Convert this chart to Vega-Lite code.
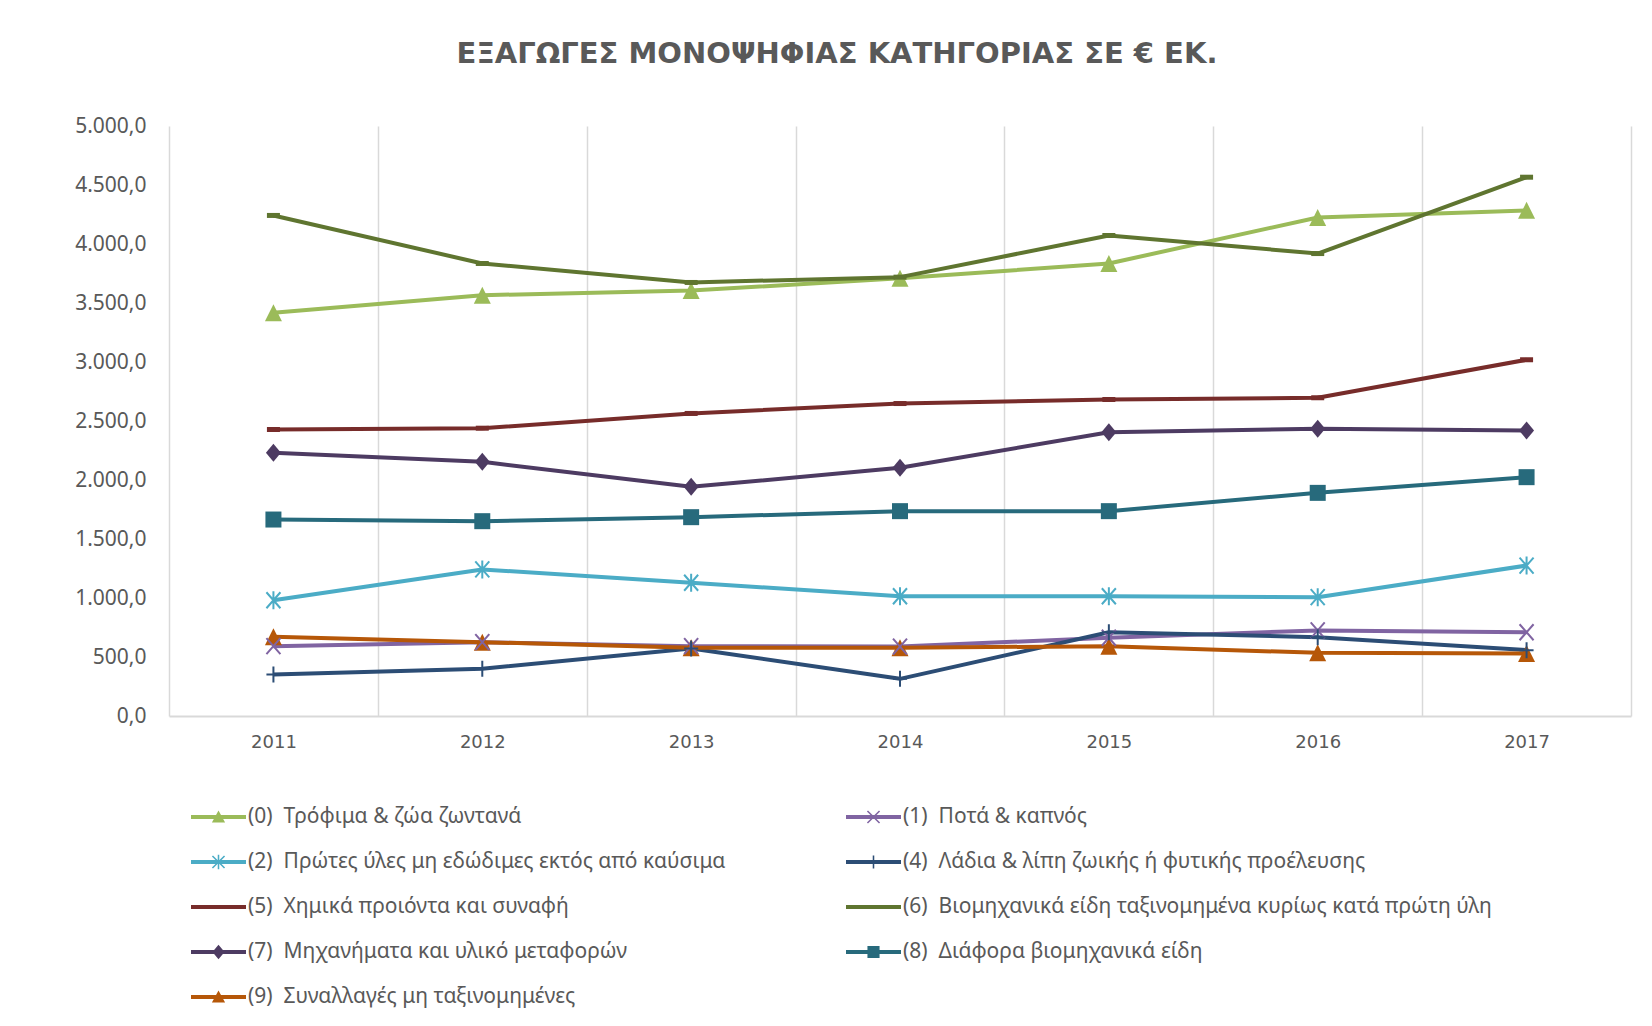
{
  "$schema": "https://vega.github.io/schema/vega-lite/v6.json",
  "width": 1462,
  "height": 590,
  "autosize": {"type": "none"},
  "padding": {"left": 169, "top": 126, "right": 21, "bottom": 310},
  "background": "white",
  "config": {
    "locale": {"number": {"decimal": ",", "thousands": ".", "grouping": [3], "currency": ["", " €"]}},
    "font": "Noto Sans",
    "view": {"stroke": null}
  },
  "title": {
    "text": "ΕΞΑΓΩΓΕΣ ΜΟΝΟΨΗΦΙΑΣ ΚΑΤΗΓΟΡΙΑΣ ΣΕ € ΕΚ.",
    "fontSize": 29,
    "fontWeight": "bold",
    "color": "#595959",
    "font": "DejaVu Sans",
    "anchor": "middle",
    "frame": "group",
    "offset": 46,
    "dx": -63
  },
  "data": {
    "values": [
      {"year": "2011", "cat": "(0)\u00a0 Τρόφιμα & ζώα ζωντανά", "v": 3417},
      {"year": "2012", "cat": "(0)\u00a0 Τρόφιμα & ζώα ζωντανά", "v": 3566},
      {"year": "2013", "cat": "(0)\u00a0 Τρόφιμα & ζώα ζωντανά", "v": 3605},
      {"year": "2014", "cat": "(0)\u00a0 Τρόφιμα & ζώα ζωντανά", "v": 3710},
      {"year": "2015", "cat": "(0)\u00a0 Τρόφιμα & ζώα ζωντανά", "v": 3835},
      {"year": "2016", "cat": "(0)\u00a0 Τρόφιμα & ζώα ζωντανά", "v": 4225},
      {"year": "2017", "cat": "(0)\u00a0 Τρόφιμα & ζώα ζωντανά", "v": 4285},
      {"year": "2011", "cat": "(1)\u00a0 Ποτά & καπνός", "v": 592},
      {"year": "2012", "cat": "(1)\u00a0 Ποτά & καπνός", "v": 626},
      {"year": "2013", "cat": "(1)\u00a0 Ποτά & καπνός", "v": 592},
      {"year": "2014", "cat": "(1)\u00a0 Ποτά & καπνός", "v": 588},
      {"year": "2015", "cat": "(1)\u00a0 Ποτά & καπνός", "v": 663},
      {"year": "2016", "cat": "(1)\u00a0 Ποτά & καπνός", "v": 725},
      {"year": "2017", "cat": "(1)\u00a0 Ποτά & καπνός", "v": 710},
      {"year": "2011", "cat": "(2)\u00a0 Πρώτες ύλες μη εδώδιμες εκτός από καύσιμα", "v": 981},
      {"year": "2012", "cat": "(2)\u00a0 Πρώτες ύλες μη εδώδιμες εκτός από καύσιμα", "v": 1242},
      {"year": "2013", "cat": "(2)\u00a0 Πρώτες ύλες μη εδώδιμες εκτός από καύσιμα", "v": 1129},
      {"year": "2014", "cat": "(2)\u00a0 Πρώτες ύλες μη εδώδιμες εκτός από καύσιμα", "v": 1015},
      {"year": "2015", "cat": "(2)\u00a0 Πρώτες ύλες μη εδώδιμες εκτός από καύσιμα", "v": 1015},
      {"year": "2016", "cat": "(2)\u00a0 Πρώτες ύλες μη εδώδιμες εκτός από καύσιμα", "v": 1007},
      {"year": "2017", "cat": "(2)\u00a0 Πρώτες ύλες μη εδώδιμες εκτός από καύσιμα", "v": 1275},
      {"year": "2011", "cat": "(4)\u00a0 Λάδια & λίπη ζωικής ή φυτικής προέλευσης", "v": 352},
      {"year": "2012", "cat": "(4)\u00a0 Λάδια & λίπη ζωικής ή φυτικής προέλευσης", "v": 400},
      {"year": "2013", "cat": "(4)\u00a0 Λάδια & λίπη ζωικής ή φυτικής προέλευσης", "v": 572},
      {"year": "2014", "cat": "(4)\u00a0 Λάδια & λίπη ζωικής ή φυτικής προέλευσης", "v": 315},
      {"year": "2015", "cat": "(4)\u00a0 Λάδια & λίπη ζωικής ή φυτικής προέλευσης", "v": 710},
      {"year": "2016", "cat": "(4)\u00a0 Λάδια & λίπη ζωικής ή φυτικής προέλευσης", "v": 668},
      {"year": "2017", "cat": "(4)\u00a0 Λάδια & λίπη ζωικής ή φυτικής προέλευσης", "v": 558},
      {"year": "2011", "cat": "(5)\u00a0 Χημικά προιόντα και συναφή", "v": 2428},
      {"year": "2012", "cat": "(5)\u00a0 Χημικά προιόντα και συναφή", "v": 2439},
      {"year": "2013", "cat": "(5)\u00a0 Χημικά προιόντα και συναφή", "v": 2564},
      {"year": "2014", "cat": "(5)\u00a0 Χημικά προιόντα και συναφή", "v": 2648},
      {"year": "2015", "cat": "(5)\u00a0 Χημικά προιόντα και συναφή", "v": 2682},
      {"year": "2016", "cat": "(5)\u00a0 Χημικά προιόντα και συναφή", "v": 2697},
      {"year": "2017", "cat": "(5)\u00a0 Χημικά προιόντα και συναφή", "v": 3019},
      {"year": "2011", "cat": "(6)\u00a0 Βιομηχανικά είδη ταξινομημένα κυρίως κατά πρώτη ύλη", "v": 4242},
      {"year": "2012", "cat": "(6)\u00a0 Βιομηχανικά είδη ταξινομημένα κυρίως κατά πρώτη ύλη", "v": 3835},
      {"year": "2013", "cat": "(6)\u00a0 Βιομηχανικά είδη ταξινομημένα κυρίως κατά πρώτη ύλη", "v": 3674},
      {"year": "2014", "cat": "(6)\u00a0 Βιομηχανικά είδη ταξινομημένα κυρίως κατά πρώτη ύλη", "v": 3719},
      {"year": "2015", "cat": "(6)\u00a0 Βιομηχανικά είδη ταξινομημένα κυρίως κατά πρώτη ύλη", "v": 4072},
      {"year": "2016", "cat": "(6)\u00a0 Βιομηχανικά είδη ταξινομημένα κυρίως κατά πρώτη ύλη", "v": 3919},
      {"year": "2017", "cat": "(6)\u00a0 Βιομηχανικά είδη ταξινομημένα κυρίως κατά πρώτη ύλη", "v": 4566},
      {"year": "2011", "cat": "(7)\u00a0 Μηχανήματα και υλικό μεταφορών", "v": 2230},
      {"year": "2012", "cat": "(7)\u00a0 Μηχανήματα και υλικό μεταφορών", "v": 2154},
      {"year": "2013", "cat": "(7)\u00a0 Μηχανήματα και υλικό μεταφορών", "v": 1942},
      {"year": "2014", "cat": "(7)\u00a0 Μηχανήματα και υλικό μεταφορών", "v": 2103},
      {"year": "2015", "cat": "(7)\u00a0 Μηχανήματα και υλικό μεταφορών", "v": 2405},
      {"year": "2016", "cat": "(7)\u00a0 Μηχανήματα και υλικό μεταφορών", "v": 2434},
      {"year": "2017", "cat": "(7)\u00a0 Μηχανήματα και υλικό μεταφορών", "v": 2419},
      {"year": "2011", "cat": "(8)\u00a0 Διάφορα βιομηχανικά είδη", "v": 1665},
      {"year": "2012", "cat": "(8)\u00a0 Διάφορα βιομηχανικά είδη", "v": 1651},
      {"year": "2013", "cat": "(8)\u00a0 Διάφορα βιομηχανικά είδη", "v": 1685},
      {"year": "2014", "cat": "(8)\u00a0 Διάφορα βιομηχανικά είδη", "v": 1736},
      {"year": "2015", "cat": "(8)\u00a0 Διάφορα βιομηχανικά είδη", "v": 1736},
      {"year": "2016", "cat": "(8)\u00a0 Διάφορα βιομηχανικά είδη", "v": 1891},
      {"year": "2017", "cat": "(8)\u00a0 Διάφορα βιομηχανικά είδη", "v": 2024},
      {"year": "2011", "cat": "(9)\u00a0 Συναλλαγές μη ταξινομημένες", "v": 671},
      {"year": "2012", "cat": "(9)\u00a0 Συναλλαγές μη ταξινομημένες", "v": 626},
      {"year": "2013", "cat": "(9)\u00a0 Συναλλαγές μη ταξινομημένες", "v": 578},
      {"year": "2014", "cat": "(9)\u00a0 Συναλλαγές μη ταξινομημένες", "v": 578},
      {"year": "2015", "cat": "(9)\u00a0 Συναλλαγές μη ταξινομημένες", "v": 592},
      {"year": "2016", "cat": "(9)\u00a0 Συναλλαγές μη ταξινομημένες", "v": 535},
      {"year": "2017", "cat": "(9)\u00a0 Συναλλαγές μη ταξινομημένες", "v": 530}
    ]
  },
  "encoding": {
    "x": {
      "field": "year",
      "type": "ordinal",
      "scale": {"type": "band", "paddingInner": 0, "paddingOuter": 0},
      "bandPosition": 0.5,
      "axis": {
        "title": null,
        "tickBand": "extent",
        "grid": true,
        "gridColor": "#d9d9d9",
        "gridWidth": 1.5,
        "domainColor": "#d9d9d9",
        "domainWidth": 2,
        "ticks": false,
        "tickSize": 0,
        "labelAngle": 0,
        "labelFontSize": 18,
        "labelColor": "#595959",
        "labelPadding": 17,
        "labelFont": "DejaVu Sans"
      }
    },
    "y": {
      "field": "v",
      "type": "quantitative",
      "scale": {"domain": [0, 5000], "nice": false},
      "axis": {
        "title": null,
        "values": [0, 500, 1000, 1500, 2000, 2500, 3000, 3500, 4000, 4500, 5000],
        "format": ",.1f",
        "grid": false,
        "domain": false,
        "ticks": false,
        "tickSize": 0,
        "labelFontSize": 21,
        "labelColor": "#595959",
        "labelPadding": 23,
        "labelFont": "Noto Sans"
      }
    },
    "color": {
      "field": "cat",
      "type": "nominal",
      "scale": {
        "domain": [
          "(0)\u00a0 Τρόφιμα & ζώα ζωντανά",
          "(1)\u00a0 Ποτά & καπνός",
          "(2)\u00a0 Πρώτες ύλες μη εδώδιμες εκτός από καύσιμα",
          "(4)\u00a0 Λάδια & λίπη ζωικής ή φυτικής προέλευσης",
          "(5)\u00a0 Χημικά προιόντα και συναφή",
          "(6)\u00a0 Βιομηχανικά είδη ταξινομημένα κυρίως κατά πρώτη ύλη",
          "(7)\u00a0 Μηχανήματα και υλικό μεταφορών",
          "(8)\u00a0 Διάφορα βιομηχανικά είδη",
          "(9)\u00a0 Συναλλαγές μη ταξινομημένες"
        ],
        "range": ["#9BBB59", "#8064A2", "#4BACC6", "#2C4D75", "#772C2A", "#5F7530", "#4D3B62", "#276A7C", "#B65708"]
      },
      "legend": null
    }
  },
  "layer": [
    {
      "mark": {"type": "line", "strokeWidth": 4, "strokeJoin": "round"}
    },
    {
      "transform": [{"filter": {"field": "cat", "oneOf": [
        "(0)\u00a0 Τρόφιμα & ζώα ζωντανά",
        "(5)\u00a0 Χημικά προιόντα και συναφή",
        "(6)\u00a0 Βιομηχανικά είδη ταξινομημένα κυρίως κατά πρώτη ύλη",
        "(7)\u00a0 Μηχανήματα και υλικό μεταφορών",
        "(8)\u00a0 Διάφορα βιομηχανικά είδη",
        "(9)\u00a0 Συναλλαγές μη ταξινομημένες"
      ]}}],
      "mark": {"type": "point", "filled": true, "opacity": 1, "size": 100, "strokeWidth": 0},
      "encoding": {
        "shape": {
          "field": "cat",
          "type": "nominal",
          "scale": {
            "domain": [
              "(0)\u00a0 Τρόφιμα & ζώα ζωντανά",
              "(5)\u00a0 Χημικά προιόντα και συναφή",
              "(6)\u00a0 Βιομηχανικά είδη ταξινομημένα κυρίως κατά πρώτη ύλη",
              "(7)\u00a0 Μηχανήματα και υλικό μεταφορών",
              "(8)\u00a0 Διάφορα βιομηχανικά είδη",
              "(9)\u00a0 Συναλλαγές μη ταξινομημένες"
            ],
            "range": [
              "M0,-1.7L1.7,1.7L-1.7,1.7Z",
              "M-1.3,-0.5L1.3,-0.5L1.3,0.5L-1.3,0.5Z",
              "M-1.3,-0.5L1.3,-0.5L1.3,0.5L-1.3,0.5Z",
              "M0,-1.8L1.5,0L0,1.8L-1.5,0Z",
              "M-1.6,-1.6L1.6,-1.6L1.6,1.6L-1.6,1.6Z",
              "M0,-1.7L1.7,1.7L-1.7,1.7Z"
            ]
          },
          "legend": null
        }
      }
    },
    {
      "transform": [{"filter": {"field": "cat", "oneOf": [
        "(1)\u00a0 Ποτά & καπνός",
        "(2)\u00a0 Πρώτες ύλες μη εδώδιμες εκτός από καύσιμα",
        "(4)\u00a0 Λάδια & λίπη ζωικής ή φυτικής προέλευσης"
      ]}}],
      "mark": {"type": "point", "filled": false, "opacity": 1, "size": 100, "strokeWidth": 2},
      "encoding": {
        "shape": {
          "field": "cat",
          "type": "nominal",
          "scale": {
            "domain": [
              "(1)\u00a0 Ποτά & καπνός",
              "(2)\u00a0 Πρώτες ύλες μη εδώδιμες εκτός από καύσιμα",
              "(4)\u00a0 Λάδια & λίπη ζωικής ή φυτικής προέλευσης"
            ],
            "range": [
              "M-1.4,-1.6L1.4,1.6M-1.4,1.6L1.4,-1.6",
              "M-1.4,-1.6L1.4,1.6M-1.4,1.6L1.4,-1.6M0,-1.8L0,1.8",
              "M0,-1.6L0,1.6M-1.4,0L1.4,0"
            ]
          },
          "legend": null
        }
      }
    },
    {
      "transform": [{"filter": "false"}],
      "mark": {"type": "point", "filled": true, "opacity": 1, "strokeWidth": 0},
      "encoding": {
        "color": {
          "field": "cat",
          "type": "nominal",
          "scale": {
            "domain": [
              "(0)\u00a0 Τρόφιμα & ζώα ζωντανά",
              "(1)\u00a0 Ποτά & καπνός",
              "(2)\u00a0 Πρώτες ύλες μη εδώδιμες εκτός από καύσιμα",
              "(4)\u00a0 Λάδια & λίπη ζωικής ή φυτικής προέλευσης",
              "(5)\u00a0 Χημικά προιόντα και συναφή",
              "(6)\u00a0 Βιομηχανικά είδη ταξινομημένα κυρίως κατά πρώτη ύλη",
              "(7)\u00a0 Μηχανήματα και υλικό μεταφορών",
              "(8)\u00a0 Διάφορα βιομηχανικά είδη",
              "(9)\u00a0 Συναλλαγές μη ταξινομημένες"
            ],
            "range": ["#9BBB59", "#8064A2", "#4BACC6", "#2C4D75", "#772C2A", "#5F7530", "#4D3B62", "#276A7C", "#B65708"]
          },
          "legend": {
            "title": null,
            "orient": "none",
            "direction": "horizontal",
            "legendX": 22,
            "legendY": 680,
            "columns": 2,
            "columnPadding": 120,
            "rowPadding": 24,
            "symbolSize": 484,
            "symbolStrokeWidth": 0,
            "symbolOpacity": 1,
            "labelOffset": 35,
            "labelFontSize": 21,
            "labelColor": "#595959",
            "labelFont": "Noto Sans",
            "labelLimit": 0
          }
        },
        "shape": {
          "field": "cat",
          "type": "nominal",
          "scale": {
            "domain": [
              "(0)\u00a0 Τρόφιμα & ζώα ζωντανά",
              "(1)\u00a0 Ποτά & καπνός",
              "(2)\u00a0 Πρώτες ύλες μη εδώδιμες εκτός από καύσιμα",
              "(4)\u00a0 Λάδια & λίπη ζωικής ή φυτικής προέλευσης",
              "(5)\u00a0 Χημικά προιόντα και συναφή",
              "(6)\u00a0 Βιομηχανικά είδη ταξινομημένα κυρίως κατά πρώτη ύλη",
              "(7)\u00a0 Μηχανήματα και υλικό μεταφορών",
              "(8)\u00a0 Διάφορα βιομηχανικά είδη",
              "(9)\u00a0 Συναλλαγές μη ταξινομημένες"
            ],
            "range": [
              "M-1,-0.18L4,-0.18L4,0.18L-1,0.18ZM1.5,-0.6L2.1,0.5L0.9,0.5Z",
              "M-1,-0.18L4,-0.18L4,0.18L-1,0.18ZM0.9,-0.5L1,-0.6L2.1,0.5L2,0.6ZM0.9,0.5L2,-0.6L2.1,-0.5L1,0.6Z",
              "M-1,-0.18L4,-0.18L4,0.18L-1,0.18ZM0.9,-0.5L1,-0.6L2.1,0.5L2,0.6ZM0.9,0.5L2,-0.6L2.1,-0.5L1,0.6ZM1.43,-0.65L1.57,-0.65L1.57,0.65L1.43,0.65Z",
              "M-1,-0.18L4,-0.18L4,0.18L-1,0.18ZM1.43,-0.6L1.57,-0.6L1.57,0.6L1.43,0.6Z",
              "M-1,-0.18L4,-0.18L4,0.18L-1,0.18Z",
              "M-1,-0.18L4,-0.18L4,0.18L-1,0.18Z",
              "M-1,-0.18L4,-0.18L4,0.18L-1,0.18ZM1.5,-0.65L2.05,0L1.5,0.65L0.95,0Z",
              "M-1,-0.18L4,-0.18L4,0.18L-1,0.18ZM0.95,-0.55L2.05,-0.55L2.05,0.55L0.95,0.55Z",
              "M-1,-0.18L4,-0.18L4,0.18L-1,0.18ZM1.5,-0.6L2.1,0.5L0.9,0.5Z"
            ]
          },
          "legend": {
            "title": null,
            "orient": "none",
            "direction": "horizontal",
            "legendX": 22,
            "legendY": 680,
            "columns": 2,
            "columnPadding": 120,
            "rowPadding": 24,
            "symbolSize": 484,
            "symbolStrokeWidth": 0,
            "symbolOpacity": 1,
            "labelOffset": 35,
            "labelFontSize": 21,
            "labelColor": "#595959",
            "labelFont": "Noto Sans",
            "labelLimit": 0
          }
        }
      }
    }
  ],
  "resolve": {
    "scale": {"shape": "independent", "color": "independent"},
    "legend": {"shape": "independent", "color": "independent"}
  }
}
